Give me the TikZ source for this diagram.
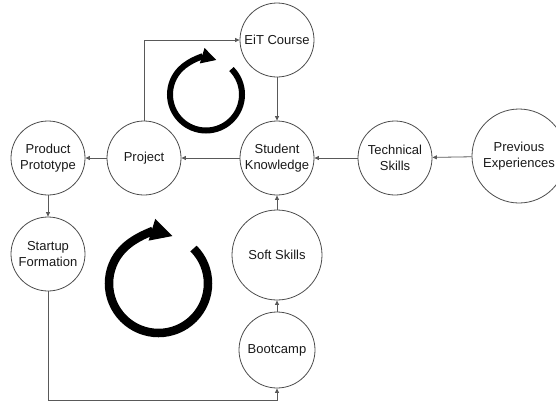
\documentclass[tikz,border=0pt]{standalone}
\usepackage{fontspec}
\setmainfont{Liberation Sans}
\usetikzlibrary{arrows.meta}

\begin{document}
\begin{tikzpicture}[x=1pt,y=-1pt,
        stage/.style={circle,draw=black!70,line width=0.8pt,inner sep=0pt,align=center,
            font=\fontsize{13}{16}\selectfont,text=black!90,minimum size=74pt},
        link/.style={draw=black!65,line width=0.8pt,-{Triangle[length=4.5pt,width=4pt]}},
        loop/.style={line width=#1,line cap=butt}]
        \useasboundingbox (0,0) rectangle (556,405);
        \node[stage] (eit) at (277,40) {EiT Course};
        \node[stage] (sk) at (277,158) {Student\\Knowledge};
        \node[stage] (ts) at (395,158) {Technical\\Skills};
        \node[stage,minimum size=94pt] (pe) at (519,156) {Previous\\Experiences};
        \node[stage] (pj) at (144,158) {Project};
        \node[stage] (pp) at (48,158) {Product\\Prototype};
        \node[stage] (sf) at (48,254) {Startup\\Formation};
        \node[stage,minimum size=90pt] (ss) at (277,255) {Soft Skills};
        \node[stage,minimum size=76pt] (bc) at (277,350) {Bootcamp};
        \coordinate (low) at (48,400);
        \draw[link] (eit) -- (sk);
        \draw[link] (pe) -- (ts);
        \draw[link] (ts) -- (sk);
        \draw[link] (sk) -- (pj);
        \draw[link] (pj) -- (pp);
        \draw[link] (pj) |- (eit);
        \draw[link] (pp) -- (sf);
        \draw[link] (sf) -- (low) -| (bc);
        \draw[link] (bc) -- (ss);
        \draw[link] (ss) -- (sk);
        \draw[loop=6pt,-{Triangle[length=15pt,width=15pt]}] (206,94.5) ++(-45:36)
            arc[start angle=-45,end angle=287,radius=36];
        \draw[loop=8.5pt,-{Triangle[length=22pt,width=21pt]}] (158.5,283.5) ++(-45:49.5)
            arc[start angle=-45,end angle=287,radius=49.5];
    \end{tikzpicture}
\end{document}
